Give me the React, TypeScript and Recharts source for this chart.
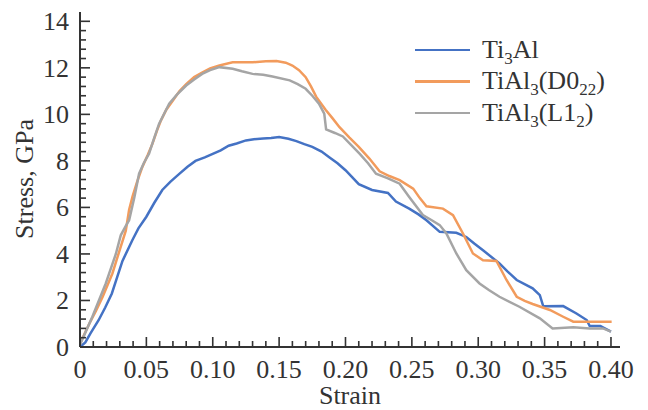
import React from 'react';
import { LineChart, Line, XAxis, YAxis, Legend } from 'recharts';

// [strain, stress GPa]
const ti3Al: [number, number][] = [
  [0, 0], [0.004, 0.2], [0.008, 0.6], [0.014, 1.15], [0.019, 1.7], [0.024, 2.3],
  [0.028, 3.0], [0.032, 3.7], [0.0395, 4.6], [0.044, 5.1], [0.05, 5.6], [0.056, 6.2],
  [0.062, 6.75], [0.068, 7.1], [0.075, 7.45], [0.081, 7.75], [0.087, 8.0], [0.094, 8.15],
  [0.1, 8.3], [0.106, 8.45], [0.112, 8.65], [0.118, 8.75], [0.125, 8.88], [0.131, 8.93],
  [0.138, 8.96], [0.144, 8.98], [0.15, 9.03], [0.157, 8.95], [0.163, 8.85], [0.169, 8.72],
  [0.175, 8.6], [0.182, 8.4], [0.188, 8.15], [0.194, 7.9], [0.2, 7.6], [0.205, 7.3],
  [0.21, 7.0], [0.22, 6.75], [0.232, 6.62], [0.238, 6.25], [0.248, 5.95], [0.255, 5.7],
  [0.261, 5.45], [0.271, 4.95], [0.2835, 4.91], [0.291, 4.73], [0.297, 4.45], [0.3036, 4.16],
  [0.316, 3.59], [0.322, 3.25], [0.329, 2.88], [0.341, 2.52], [0.3464, 2.23], [0.349, 1.75],
  [0.364, 1.76], [0.374, 1.44], [0.3817, 1.16], [0.384, 0.9], [0.392, 0.9], [0.4, 0.66],
];

const tiAl3D022: [number, number][] = [
  [0, 0.15], [0.007, 1.0], [0.012, 1.55], [0.017, 2.15], [0.0244, 3.16], [0.029, 4.0],
  [0.0345, 5.0], [0.037, 5.9], [0.0395, 6.45], [0.043, 7.1], [0.047, 7.74], [0.051, 8.25],
  [0.0546, 8.74], [0.058, 9.3], [0.061, 9.74], [0.065, 10.2], [0.07, 10.6], [0.075, 11.0],
  [0.08, 11.3], [0.086, 11.6], [0.092, 11.8], [0.098, 11.98], [0.105, 12.1], [0.115, 12.24],
  [0.13, 12.24], [0.14, 12.28], [0.148, 12.29], [0.155, 12.22], [0.16, 12.1], [0.165, 11.9],
  [0.17, 11.6], [0.174, 11.2], [0.178, 10.75], [0.185, 10.2], [0.19, 9.85], [0.1955, 9.45],
  [0.203, 9.0], [0.21, 8.6], [0.218, 8.1], [0.2257, 7.55], [0.233, 7.35], [0.2408, 7.17],
  [0.251, 6.81], [0.256, 6.4], [0.261, 6.05], [0.2734, 5.95], [0.281, 5.67], [0.2885, 4.88],
  [0.296, 4.02], [0.3036, 3.73], [0.3137, 3.7], [0.3213, 2.88], [0.329, 2.16], [0.335, 1.98],
  [0.341, 1.85], [0.354, 1.59], [0.364, 1.3], [0.3716, 1.09], [0.4005, 1.09],
];

const tiAl3L12: [number, number][] = [
  [0, 0.1], [0.0093, 1.3], [0.0194, 2.73], [0.027, 4.0], [0.0307, 4.8], [0.034, 5.15],
  [0.037, 5.45], [0.041, 6.45], [0.0445, 7.45], [0.048, 7.9], [0.052, 8.31], [0.056, 9.0],
  [0.0596, 9.6], [0.0672, 10.46], [0.073, 10.85], [0.08, 11.24], [0.086, 11.5], [0.092, 11.74],
  [0.098, 11.9], [0.105, 12.03], [0.115, 11.96], [0.122, 11.85], [0.13, 11.74], [0.138, 11.7],
  [0.145, 11.63], [0.158, 11.46], [0.164, 11.3], [0.17, 11.1], [0.175, 10.8], [0.18, 10.46],
  [0.184, 10.03], [0.1854, 9.35], [0.192, 9.2], [0.198, 9.05], [0.204, 8.7], [0.2106, 8.31],
  [0.217, 7.9], [0.223, 7.45], [0.232, 7.25], [0.2408, 7.02], [0.248, 6.45], [0.2583, 5.67],
  [0.265, 5.45], [0.271, 5.24], [0.276, 4.88], [0.2835, 4.02], [0.291, 3.3], [0.301, 2.73],
  [0.308, 2.45], [0.316, 2.16], [0.331, 1.73], [0.3464, 1.23], [0.356, 0.8], [0.3716, 0.85],
  [0.384, 0.8], [0.394, 0.8], [0.4, 0.66],
];

// ticks: every 0.01 on x (labels each 0.05), every 0.4 on y (labels each 2)
const xTicks = Array.from({ length: 41 }, (_, i) => i / 100);
const yTicks = Array.from({ length: 36 }, (_, i) => Math.round(i * 4) / 10);

const toPoints = (pairs: [number, number][]) =>
  pairs.map(([strain, stress]) => ({ strain, stress }));

const ti3AlPts = toPoints(ti3Al);
const d022Pts = toPoints(tiAl3D022);
const l12Pts = toPoints(tiAl3L12);

const FONT = 'Liberation Serif, serif';
const INK = '#333333';
const BLUE = '#4472C4';
const ORANGE = '#F29B5C';
const GRAY = '#A5A5A5';

// tick marks point inward; drawn as filled rects next to the label text
const XTick = (props: any) => {
  const { x, y, payload } = props;
  const i = Math.round(payload.value * 100);
  const major = i % 5 === 0;
  const len = major ? 10 : 6;
  return (
    <g>
      <rect x={x - 0.8} y={y - len} width={1.6} height={len} fill={INK} />
      {major && (
        <text x={x} y={y + 31} textAnchor="middle" fill={INK} fontSize={26} fontFamily={FONT}>
          {i === 0 ? '0' : (i / 100).toFixed(2)}
        </text>
      )}
    </g>
  );
};

const YTick = (props: any) => {
  const { x, y, payload } = props;
  const i = Math.round(payload.value * 10);
  const major = i % 20 === 0;
  const len = major ? 10 : 6;
  return (
    <g>
      <rect x={x} y={y - 0.8} width={len} height={1.6} fill={INK} />
      {major && (
        <text x={x - 11} y={y + 9} textAnchor="end" fill={INK} fontSize={26} fontFamily={FONT}>
          {i / 10}
        </text>
      )}
    </g>
  );
};

const Sub = ({ children }: { children: React.ReactNode }) => (
  <span style={{ fontSize: 17, position: 'relative', top: 6 }}>{children}</span>
);

const legendRows = [
  { color: BLUE, label: <>Ti<Sub>3</Sub>Al</> },
  { color: ORANGE, label: <>TiAl<Sub>3</Sub>(D0<Sub>22</Sub>)</> },
  { color: GRAY, label: <>TiAl<Sub>3</Sub>(L1<Sub>2</Sub>)</> },
];

const LegendBox = () => (
  <div style={{ fontFamily: FONT, fontSize: 26, color: INK }}>
    {legendRows.map((r, k) => (
      <div key={k} style={{ display: 'flex', alignItems: 'center', height: 31.5 }}>
        <span style={{ width: 55, height: 2.5, background: r.color, marginRight: 12 }} />
        <span style={{ lineHeight: 1, whiteSpace: 'nowrap' }}>{r.label}</span>
      </div>
    ))}
  </div>
);

const titleStyle: React.CSSProperties = {
  position: 'absolute',
  width: 300,
  height: 24,
  lineHeight: '24px',
  textAlign: 'center',
  fontFamily: FONT,
  fontSize: 26,
  color: INK,
  whiteSpace: 'nowrap',
};

export default function App() {
  return (
    <div style={{ position: 'absolute', left: 0, top: 0, width: 648, height: 410, background: '#fff' }}>
      <LineChart width={648} height={410} margin={{ top: 12, right: 28, left: 20, bottom: 0 }}>
        <XAxis
          dataKey="strain"
          type="number"
          domain={[0, 0.4068]}
          ticks={xTicks}
          interval={0}
          allowDataOverflow
          height={63}
          tickSize={0}
          tickMargin={0}
          tickLine={false}
          tick={<XTick />}
          axisLine={{ stroke: INK, strokeWidth: 2 }}
        />
        <YAxis
          type="number"
          domain={[0, 14.4]}
          ticks={yTicks}
          interval={0}
          allowDataOverflow
          width={60}
          tickSize={0}
          tickMargin={0}
          tickLine={false}
          tick={<YTick />}
          axisLine={{ stroke: INK, strokeWidth: 2 }}
        />
        <Legend
          layout="horizontal"
          verticalAlign="middle"
          align="center"
          content={() => <LegendBox />}
          wrapperStyle={{ left: 415, top: 34, width: 230 }}
        />
        <Line name="Ti3Al" data={ti3AlPts} dataKey="stress" type="linear" dot={false}
          stroke={BLUE} strokeWidth={2.5} isAnimationActive={false} />
        <Line name="TiAl3(D022)" data={d022Pts} dataKey="stress" type="linear" dot={false}
          stroke={ORANGE} strokeWidth={2.5} isAnimationActive={false} />
        <Line name="TiAl3(L12)" data={l12Pts} dataKey="stress" type="linear" dot={false}
          stroke={GRAY} strokeWidth={2.5} isAnimationActive={false} />
      </LineChart>
      <div style={{ ...titleStyle, left: 200, top: 384 }}>Strain</div>
      <div style={{ ...titleStyle, left: -125, top: 167, transform: 'rotate(-90deg)' }}>Stress, GPa</div>
    </div>
  );
}
